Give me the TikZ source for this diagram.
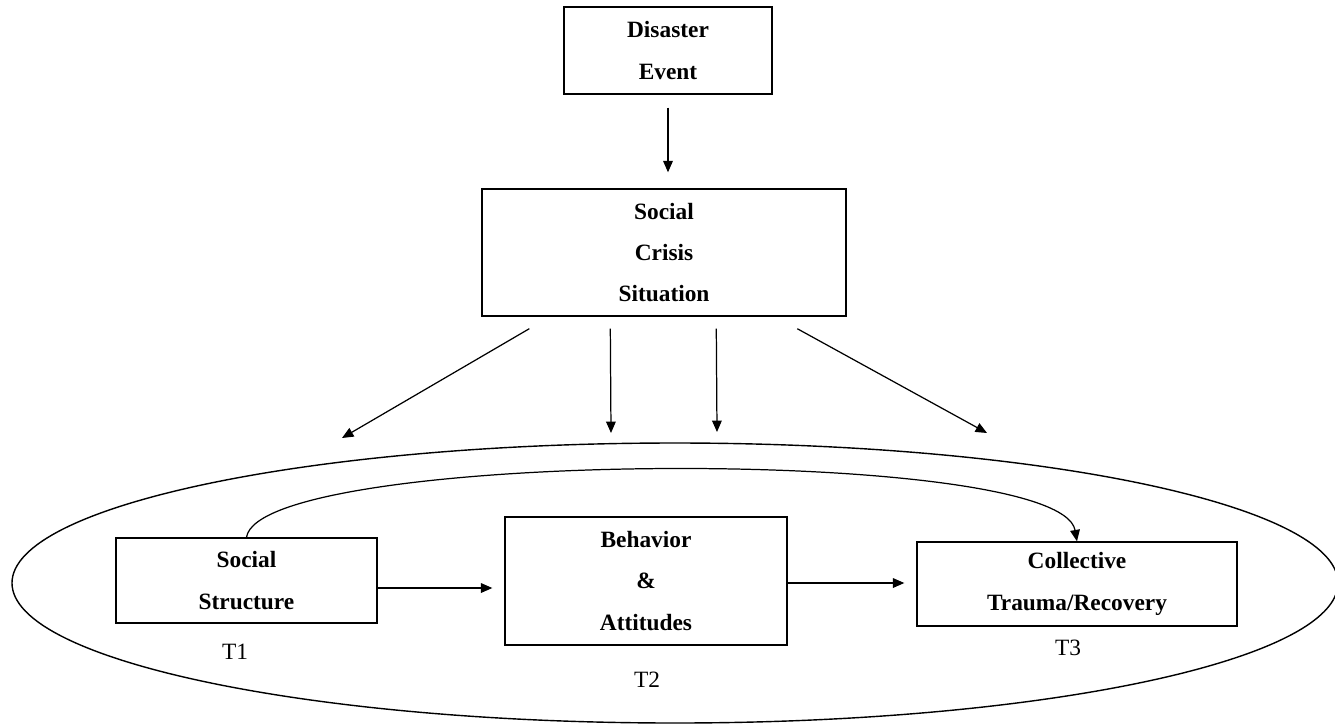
\documentclass[tikz,border=0pt]{standalone}
\usepackage{fontspec}
\setmainfont{Liberation Serif}
\usetikzlibrary{arrows.meta,calc}

\tikzset{
  box/.style={draw, line width=0.8pt, inner sep=0pt, align=center,
    font=\fontsize{13.3}{23.5}\selectfont\bfseries},
  tlabel/.style={font=\fontsize{13.3}{16}\selectfont},
  arr/.style={-{Triangle[length=6.5pt,width=5.5pt]}, line width=0.7pt}
}

\begin{document}
\begin{tikzpicture}[x=0.02cm, y=-0.02cm]
\useasboundingbox (0,0) rectangle (1335,724);

% top chain
\node[box, minimum width=4.16cm, minimum height=1.74cm] (dis) at (668,50.5) {Disaster\\Event};
\node[box, minimum width=7.28cm, minimum height=2.54cm] (crisis) at (664,252.5) {Social\\Crisis\\Situation};
\draw[arr, shorten <=0.26cm, shorten >=0.32cm] (dis.south) -- (dis.south |- crisis.north);

% free ends above the ellipse
\coordinate (c1) at (342,438);
\coordinate (c2) at (611,433);
\coordinate (c3) at (717,432);
\coordinate (c4) at (987,433);
\foreach \dx/\e in {0.96/c1, 2.58/c2, 4.70/c3, 6.32/c4}
  \draw[arr] ([xshift=\dx cm, yshift=-0.24cm]crisis.south west) -- (\e);

% the ellipse
\draw[line width=0.8pt] (675,583) ellipse [x radius=663, y radius=140];

% inside
\node[box, minimum width=5.22cm, minimum height=1.70cm] (soc) at (246.5,580.5) {Social\\Structure};
\node[box, minimum width=5.64cm, minimum height=2.56cm] (beh) at (646,581) {Behavior\\\&\\Attitudes};
\node[box, minimum width=6.40cm, minimum height=1.68cm] (coll) at (1077,584) {Collective\\Trauma/Recovery};

\node[tlabel] (t1) at (235,652) {T1};
\node[tlabel] (t2) at (647,680) {T2};
\node[tlabel] (t3) at (1068,648) {T3};

\draw[arr, shorten >=0.24cm] ([yshift=-0.15cm]soc.east) -- ([yshift=-0.15cm]soc.east -| beh.west);
\draw[arr, shorten >=0.24cm] ([yshift=-0.04cm]beh.east) -- ([yshift=-0.04cm]beh.east -| coll.west);
\draw[arr] (soc.north) .. controls +(13,-88) and +(-17,-97) .. (coll.north);

\end{tikzpicture}
\end{document}
